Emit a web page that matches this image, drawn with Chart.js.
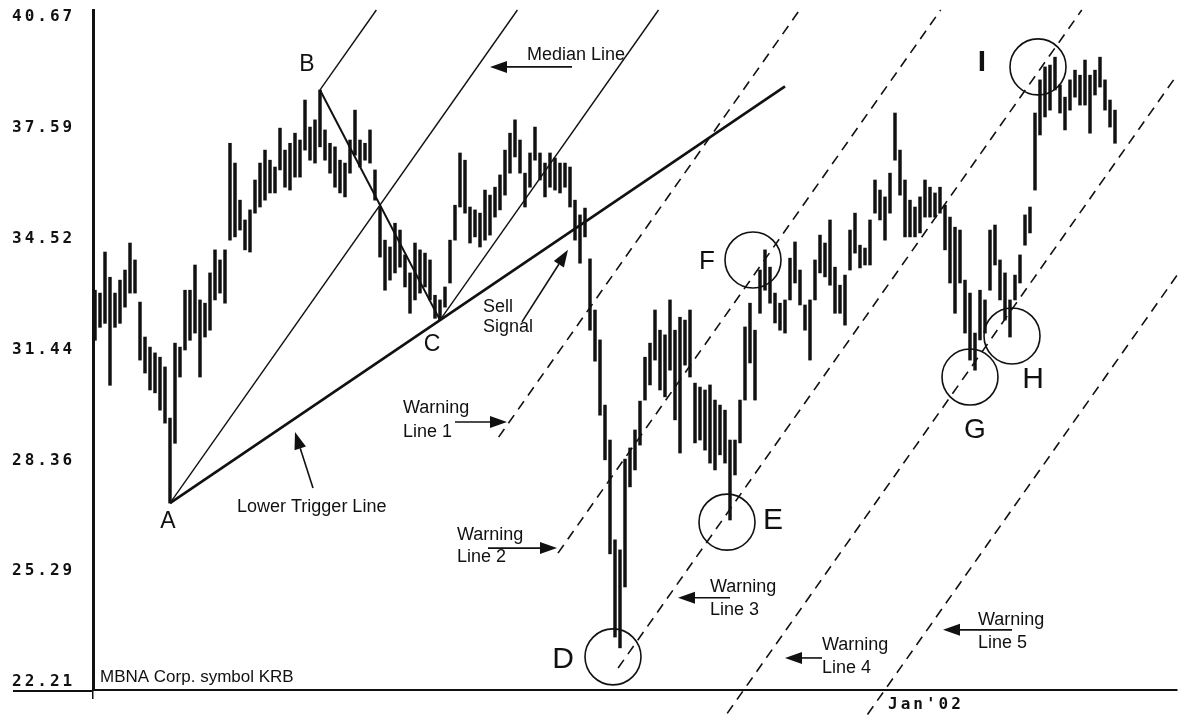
<!DOCTYPE html>
<html>
<head>
<meta charset="utf-8">
<script src="https://cdn.jsdelivr.net/npm/chart.js@4.4.0/dist/chart.umd.min.js"></script>
<style>
  html, body { margin: 0; padding: 0; background: #fff; }
  #wrap { width: 1188px; height: 719px; }
</style>
</head>
<body>
<div id="wrap"><canvas id="chart"></canvas></div>
<script>
// daily bars, one per trading day (index 0 = first bar on the left)
const highs = [
  33.03, 32.95, 34.09, 33.39, 32.95, 33.31, 33.59, 34.34, 33.87, 32.70,
  31.73, 31.45, 31.29, 31.17, 30.90, 29.48, 31.56, 31.45, 33.03, 33.03,
  33.73, 32.76, 32.67, 33.51, 34.15, 33.87, 34.15, 37.11, 36.56, 35.53,
  34.98, 35.26, 36.09, 36.56, 36.92, 36.64, 36.45, 37.53, 36.92, 37.11,
  37.39, 37.20, 38.31, 37.56, 37.76, 38.59, 37.48, 37.11, 37.01, 36.64,
  36.56, 37.20, 38.03, 37.20, 37.11, 37.48, 36.37, 35.34, 34.42, 34.23,
  34.89, 34.70, 34.01, 33.51, 34.34, 34.15, 34.06, 33.87, 32.89, 32.76,
  33.12, 34.42, 35.39, 36.84, 36.64, 35.34, 35.26, 35.17, 35.81, 35.67,
  35.89, 36.23, 36.92, 37.39, 37.76, 37.20, 36.28, 36.84, 37.56, 36.84,
  36.56, 36.84, 36.70, 36.56, 36.56, 36.45, 35.53, 35.12, 35.31, 33.90,
  32.48, 31.65, 29.84, 28.87, 26.10, 25.82, 28.34, 28.65, 29.15, 29.95,
  31.17, 31.56, 32.48, 31.92, 31.79, 32.76, 31.92, 32.28, 32.20, 32.48,
  30.45, 30.34, 30.26, 30.40, 29.98, 29.84, 29.70, 28.87, 28.87, 29.98,
  32.01, 32.67, 31.92, 33.59, 34.15, 33.67, 32.95, 32.67, 32.76, 33.92,
  34.37, 33.59, 32.62, 32.76, 33.87, 34.56, 34.34, 34.98, 33.67, 33.17,
  33.45, 34.70, 35.17, 34.28, 34.20, 34.98, 36.09, 35.81, 35.62, 36.28,
  37.95, 36.92, 36.09, 35.53, 35.34, 35.62, 36.09, 35.89, 35.73, 35.89,
  35.39, 35.06, 34.78, 34.70, 33.31, 32.95, 31.84, 33.03, 32.76, 34.70,
  34.84, 33.87, 33.51, 32.76, 33.45, 34.01, 35.12, 35.34, 37.95, 38.87,
  39.23, 39.28, 39.50, 38.73, 38.39, 38.87, 39.14, 39.00, 39.42, 39.00,
  39.14, 39.50, 38.87, 38.31, 38.03
];
const lows = [
  31.64, 32.00, 32.11, 30.39, 32.00, 32.11, 32.56, 32.95, 32.95, 31.09,
  30.73, 30.26, 30.18, 29.70, 29.34, 27.12, 28.78, 30.62, 31.37, 31.64,
  31.84, 30.62, 31.73, 31.92, 32.76, 32.95, 32.67, 34.42, 34.51, 34.70,
  34.15, 34.09, 35.17, 35.34, 35.53, 35.73, 35.73, 36.37, 35.89, 35.81,
  36.17, 36.17, 36.92, 36.64, 36.56, 37.01, 36.64, 36.28, 35.89, 35.73,
  35.62, 36.28, 36.78, 36.45, 36.64, 36.56, 35.53, 33.95, 33.03, 33.31,
  33.51, 33.67, 33.12, 32.39, 32.76, 32.95, 33.12, 32.76, 32.25, 32.20,
  32.56, 33.23, 34.42, 35.34, 35.17, 34.34, 34.51, 34.23, 34.42, 34.56,
  35.06, 35.26, 35.67, 36.28, 36.73, 36.28, 35.34, 35.89, 36.64, 36.09,
  35.62, 35.89, 35.81, 35.73, 35.89, 35.34, 34.42, 33.78, 34.51, 31.92,
  31.06, 29.56, 28.32, 25.71, 23.40, 23.10, 24.79, 27.57, 28.04, 28.73,
  29.98, 30.40, 31.09, 30.26, 30.07, 30.81, 29.43, 28.51, 30.95, 30.62,
  28.79, 28.87, 28.59, 28.23, 28.04, 28.46, 28.23, 26.65, 27.90, 28.79,
  29.98, 31.01, 29.98, 32.39, 33.03, 32.67, 32.12, 31.92, 31.84, 32.76,
  33.23, 32.62, 31.92, 31.09, 32.76, 33.51, 33.40, 33.17, 32.39, 32.39,
  32.06, 33.59, 34.06, 33.65, 33.73, 33.73, 35.17, 34.98, 34.42, 35.17,
  36.64, 35.67, 34.51, 34.51, 34.51, 34.62, 35.06, 35.06, 35.06, 35.17,
  34.15, 33.23, 32.39, 33.23, 31.84, 31.09, 30.81, 31.65, 31.84, 33.03,
  33.73, 32.76, 32.20, 31.73, 32.76, 33.23, 34.28, 34.62, 35.81, 37.34,
  37.84, 38.03, 38.59, 37.95, 37.48, 38.03, 38.39, 38.17, 38.17, 37.39,
  38.45, 38.67, 38.03, 37.56, 37.11
];

const yTicks = [22.21, 25.29, 28.36, 31.44, 34.52, 37.59, 40.67];
const xTickValues = [157.6];
const xTickLabels = ["Jan'02"];

// pitchfork pivots (bar index): A = low, B = high, C = low
const pivotIdx = { A: 15, B: 45, C: 69 };
// price where each warning line starts, lines 1..5
const warningStarts = [28.95, 25.73, 22.54, 21.28, 21.25];
// bar index where the lower trigger line stops
const triggerEnd = 138;

// circled turning points (bar index, price)
const circleNames = ['D', 'E', 'F', 'G', 'H', 'I'];
const circleX = [103.6, 126.4, 131.6, 175.0, 183.4, 188.6];
const circleY = [22.85, 26.59, 33.87, 30.62, 31.76, 39.23];

const Y_MIN = 21.93, Y_MAX = 40.81;
const X_MIN = -0.4, X_MAX = 216.4;

// --- pitchfork construction ---
const A = { x: pivotIdx.A, y: lows[pivotIdx.A] };
const B = { x: pivotIdx.B, y: highs[pivotIdx.B] };
const C = { x: pivotIdx.C, y: lows[pivotIdx.C] };
const M = { x: (B.x + C.x) / 2, y: (B.y + C.y) / 2 };
const slope = (M.y - A.y) / (M.x - A.x);
const median = xv => A.y + slope * (xv - A.x);
const spacing = B.y - median(B.x);

// follow the median slope from a point until the top or right edge of the plot
function runToEdge(x0, y0) {
  let x1 = x0 + (Y_MAX - y0) / slope;
  if (x1 > X_MAX) x1 = X_MAX;
  return [{ x: x0, y: y0 }, { x: x1, y: y0 + slope * (x1 - x0) }];
}

const warningLines = warningStarts.map((p, k) => {
  const offset = -(k + 2) * spacing;
  const x0 = A.x + (p - offset - A.y) / slope;
  return runToEdge(x0, p);
});

const trigSlope = (C.y - A.y) / (C.x - A.x);
const triggerLine = [A, { x: triggerEnd, y: A.y + trigSlope * (triggerEnd - A.x) }];

// --- text and arrows, in (bar index, price) ---
const letters = [
  { text: 'A', x: 14.6, y: 26.60, size: 23 },
  { text: 'B', x: 42.4, y: 39.28, size: 23 },
  { text: 'C', x: 67.4, y: 31.51, size: 23 },
  { text: 'D', x: 93.6, y: 22.76, size: 30 },
  { text: 'E', x: 135.6, y: 26.62, size: 30 },
  { text: 'F', x: 122.4, y: 33.81, size: 26 },
  { text: 'G', x: 176.0, y: 29.15, size: 28 },
  { text: 'H', x: 187.6, y: 30.54, size: 30 },
  { text: 'I', x: 177.4, y: 39.34, size: 30, bold: true }
];
const notes = [
  { text: 'Median Line', x: 86.4, y: 39.42 },
  { text: 'Sell', x: 77.6, y: 32.43 },
  { text: 'Signal', x: 77.6, y: 31.87 },
  { text: 'Lower Trigger Line', x: 28.4, y: 26.87 },
  { text: 'Warning', x: 61.6, y: 29.62 },
  { text: 'Line 1', x: 61.6, y: 28.96 },
  { text: 'Warning', x: 72.4, y: 26.10 },
  { text: 'Line 2', x: 72.4, y: 25.49 },
  { text: 'Warning', x: 123.0, y: 24.65 },
  { text: 'Line 3', x: 123.0, y: 24.01 },
  { text: 'Warning', x: 145.4, y: 23.04 },
  { text: 'Line 4', x: 145.4, y: 22.40 },
  { text: 'Warning', x: 176.6, y: 23.74 },
  { text: 'Line 5', x: 176.6, y: 23.10 },
  { text: 'MBNA Corp. symbol KRB', x: 1.0, y: 22.15, size: 17 }
];
const arrows = [
  { x0: 95.4, y0: 39.23, x1: 79.0, y1: 39.23 },
  { x0: 85.4, y0: 32.15, x1: 94.6, y1: 34.15 },
  { x0: 43.6, y0: 27.54, x1: 40.0, y1: 29.09 },
  { x0: 72.0, y0: 29.37, x1: 82.4, y1: 29.37 },
  { x0: 78.6, y0: 25.87, x1: 92.4, y1: 25.87 },
  { x0: 127.0, y0: 24.49, x1: 116.6, y1: 24.49 },
  { x0: 145.4, y0: 22.82, x1: 138.0, y1: 22.82 },
  { x0: 183.4, y0: 23.60, x1: 169.6, y1: 23.60 }
];

const INK = '#111';
const SANS = '"Liberation Sans", Arial, sans-serif';
const MONO = 'bold 16px "DejaVu Sans Mono", monospace';

const annotate = {
  id: 'annotate',
  afterDatasetsDraw(chart) {
    const { ctx, chartArea, scales: { x, y } } = chart;
    ctx.save();
    ctx.fillStyle = INK;
    ctx.strokeStyle = INK;

    // axis labels in the terminal-style font
    ctx.font = MONO;
    if ('letterSpacing' in ctx) ctx.letterSpacing = '3px';
    ctx.textAlign = 'left';
    ctx.textBaseline = 'middle';
    yTicks.forEach(v => ctx.fillText(v.toFixed(2), y.left, y.getPixelForValue(v) + 2));
    ctx.textBaseline = 'top';
    xTickValues.forEach((v, i) => ctx.fillText(xTickLabels[i], x.getPixelForValue(v) + 5, chartArea.bottom + 7));
    if ('letterSpacing' in ctx) ctx.letterSpacing = '0px';

    ctx.textAlign = 'center';
    ctx.textBaseline = 'middle';
    letters.forEach(l => {
      ctx.font = (l.bold ? 'bold ' : '') + l.size + 'px ' + SANS;
      ctx.fillText(l.text, x.getPixelForValue(l.x), y.getPixelForValue(l.y));
    });

    ctx.textAlign = 'left';
    ctx.textBaseline = 'alphabetic';
    notes.forEach(n => {
      ctx.font = (n.size || 18) + 'px ' + SANS;
      ctx.fillText(n.text, x.getPixelForValue(n.x), y.getPixelForValue(n.y));
    });

    arrows.forEach(a => {
      const px0 = x.getPixelForValue(a.x0), py0 = y.getPixelForValue(a.y0);
      const px1 = x.getPixelForValue(a.x1), py1 = y.getPixelForValue(a.y1);
      const ang = Math.atan2(py1 - py0, px1 - px0);
      const len = 17, half = 6;
      const bx = px1 - len * Math.cos(ang), by = py1 - len * Math.sin(ang);
      ctx.lineWidth = 1.6;
      ctx.beginPath();
      ctx.moveTo(px0, py0);
      ctx.lineTo(bx, by);
      ctx.stroke();
      ctx.beginPath();
      ctx.moveTo(px1, py1);
      ctx.lineTo(bx + half * Math.sin(ang), by - half * Math.cos(ang));
      ctx.lineTo(bx - half * Math.sin(ang), by + half * Math.cos(ang));
      ctx.closePath();
      ctx.fill();
    });

    // bottom rule runs on under the price labels
    ctx.lineWidth = 2;
    ctx.beginPath();
    ctx.moveTo(y.left + 1, chartArea.bottom + 1);
    ctx.lineTo(chartArea.left, chartArea.bottom + 1);
    ctx.stroke();
    ctx.restore();
  }
};

const whiteBg = {
  id: 'whiteBg',
  beforeDraw(chart) {
    const { ctx, width, height } = chart;
    ctx.save();
    ctx.fillStyle = '#fff';
    ctx.fillRect(0, 0, width, height);
    ctx.restore();
  }
};

const lineStyle = (data, width, dash) => ({
  type: 'line',
  data,
  borderColor: INK,
  borderWidth: width,
  borderDash: dash || [],
  pointRadius: 0,
  fill: false,
  clip: false
});

new Chart(document.getElementById('chart'), {
  type: 'bar',
  data: {
    datasets: [
      {
        type: 'bar',
        data: highs.map((h, i) => ({ x: i, y: [lows[i], h] })),
        backgroundColor: INK,
        barThickness: 2.8,
        borderWidth: 0
      },
      lineStyle(runToEdge(A.x, A.y), 1.4),
      lineStyle(runToEdge(B.x, B.y), 1.4),
      lineStyle(runToEdge(C.x, C.y), 1.4),
      lineStyle([B, C], 2),
      lineStyle(triggerLine, 2.6),
      ...warningLines.map(pts => lineStyle(pts, 1.6, [10, 7])),
      {
        type: 'scatter',
        data: circleX.map((cx, i) => ({ x: cx, y: circleY[i] })),
        pointRadius: 28,
        pointHoverRadius: 28,
        pointBorderWidth: 1.6,
        pointBorderColor: INK,
        pointBackgroundColor: 'rgba(0,0,0,0)',
        clip: false
      }
    ]
  },
  options: {
    responsive: true,
    maintainAspectRatio: false,
    animation: false,
    events: [],
    layout: { autoPadding: false, padding: { left: 12, right: 11, top: 10, bottom: 0 } },
    plugins: { legend: { display: false }, tooltip: { enabled: false } },
    scales: {
      x: {
        type: 'linear',
        min: X_MIN,
        max: X_MAX,
        offset: false,
        afterBuildTicks: s => { s.ticks = xTickValues.map(v => ({ value: v })); },
        afterFit: s => { s.height = 29; },
        grid: { display: true, drawOnChartArea: false, drawTicks: true, tickLength: 9, color: INK, lineWidth: 1.5 },
        border: { display: true, color: INK, width: 2 },
        ticks: { display: false }
      },
      y: {
        type: 'linear',
        min: Y_MIN,
        max: Y_MAX,
        afterBuildTicks: s => { s.ticks = yTicks.map(v => ({ value: v })); },
        afterFit: s => { s.width = 81; },
        grid: { display: false },
        border: { display: true, color: INK, width: 3 },
        ticks: { display: false }
      }
    }
  },
  plugins: [whiteBg, annotate]
});
</script>
</body>
</html>
